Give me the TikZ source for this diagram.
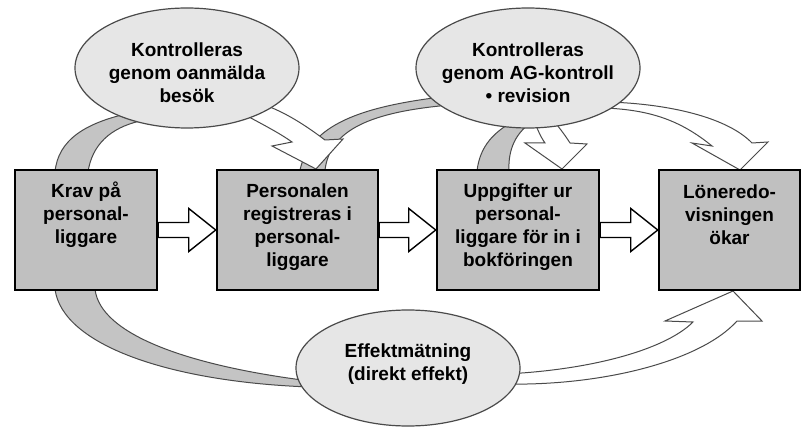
\documentclass[tikz,border=0pt]{standalone}
\usepackage{fontspec}
\setmainfont{Liberation Sans}
\usetikzlibrary{shapes.geometric,calc}
\definecolor{boxgray}{HTML}{C0C0C0}
\definecolor{ellgray}{HTML}{E6E6E6}
\definecolor{tailgray}{HTML}{C4C4C4}
\definecolor{edgegray}{HTML}{4A4A4A}
\begin{document}
\begin{tikzpicture}[x=1pt,y=-1pt,
  stepbox/.style={draw=black, line width=2.5pt, fill=boxgray, minimum height=120pt, inner sep=0pt},
  oval/.style={ellipse, draw=edgegray, line width=1.2pt, fill=ellgray, minimum width=224pt, minimum height=120pt, inner sep=0pt},
  txt/.style={font=\bfseries\fontsize{19}{23}\selectfont, align=center, inner sep=0pt},
  tail/.style={fill=tailgray, draw=edgegray, line width=1pt},
  headpart/.style={fill=white, draw=edgegray, line width=1pt},
  blockarr/.style={fill=white, draw=black, line width=1.4pt, line join=miter}]
\useasboundingbox (0,0) rectangle (802,427);

% curved arrows: gray tails
\path[tail] (55,172) .. controls (58,140) and (85,122) .. (135,112) -- (140,121) .. controls (110,128) and (92,145) .. (88,172) -- cycle;
\path[tail] (300,170) .. controls (310,125) and (360,106) .. (450,96) -- (450,105) .. controls (370,112) and (330,130) .. (325,170) -- cycle;
\path[tail] (477,171) .. controls (480,145) and (495,132) .. (512,122) -- (535,120) .. controls (515,132) and (508,150) .. (509,171) -- cycle;
\path[tail] (55,289) .. controls (62,345) and (170,382) .. (310,387) -- (310,381) .. controls (190,366) and (100,335) .. (95,289) -- cycle;

% curved arrows: white heads
\path[headpart] (236,110) .. controls (258,122) and (278,132) .. (292,142) -- (272,146) -- (316,169) -- (343,139) -- (325,140) .. controls (305,125) and (285,112) .. (262,104) -- cycle;
\path[headpart] (605,108) .. controls (650,110) and (680,120) .. (712,146) -- (692,143) -- (740,170) -- (768,142) -- (752,143) .. controls (725,115) and (660,103) .. (605,102) -- cycle;
\path[headpart] (533,118) .. controls (537,128) and (540,136) .. (545,143) -- (525,143) -- (562,169) -- (587,144) -- (570,143) .. controls (565,135) and (558,126) .. (550,116) -- cycle;
\path[headpart] (505,374) .. controls (590,370) and (665,350) .. (693,322) -- (665,321) -- (733,291) -- (762,321) -- (737,321) .. controls (700,362) and (600,386) .. (505,384) -- cycle;

% ellipses
\node[oval] (e1) at (187,68) {};
\node[txt] (e1t) at (187,73) {Kontrolleras\\genom oanmälda\\besök};
\node[oval] (e2) at (528,68) {};
\node[txt] (e2t) at (528,73) {Kontrolleras\\genom AG-kontroll\\• revision};
\node[oval, minimum height=116pt] (e3) at (408,368) {};
\node[txt] (e3t) at (408,364) {Effektmätning\\(direkt effekt)};

% boxes
\node[stepbox, minimum width=142pt] (b1) at (86,230) {};
\node[stepbox, minimum width=161pt] (b2) at (297.5,230) {};
\node[stepbox, minimum width=162pt] (b3) at (518,230) {};
\node[stepbox, minimum width=141pt] (b4) at (729.5,230) {};
\node[txt] (b1t) at (86,215) {Krav på\\personal-\\liggare};
\node[txt] (b2t) at (297.5,227) {Personalen\\registreras i\\personal-\\liggare};
\node[txt] (b3t) at (518,227) {Uppgifter ur\\personal-\\liggare för in i\\bokföringen};
\node[txt] (b4t) at (729.5,215) {Löneredo-\\visningen\\ökar};

% block arrows
\foreach \a/\b in {b1/b2,b2/b3,b3/b4}{
  \path[blockarr] ($(\a.east)+(0,-7.5)$) -- ($(\b.west)+(-27,-7.5)$) -- ($(\b.west)+(-27,-21.5)$) -- (\b.west)
    -- ($(\b.west)+(-27,21.5)$) -- ($(\b.west)+(-27,7.5)$) -- ($(\a.east)+(0,7.5)$) -- cycle;
}
\end{tikzpicture}
\end{document}
